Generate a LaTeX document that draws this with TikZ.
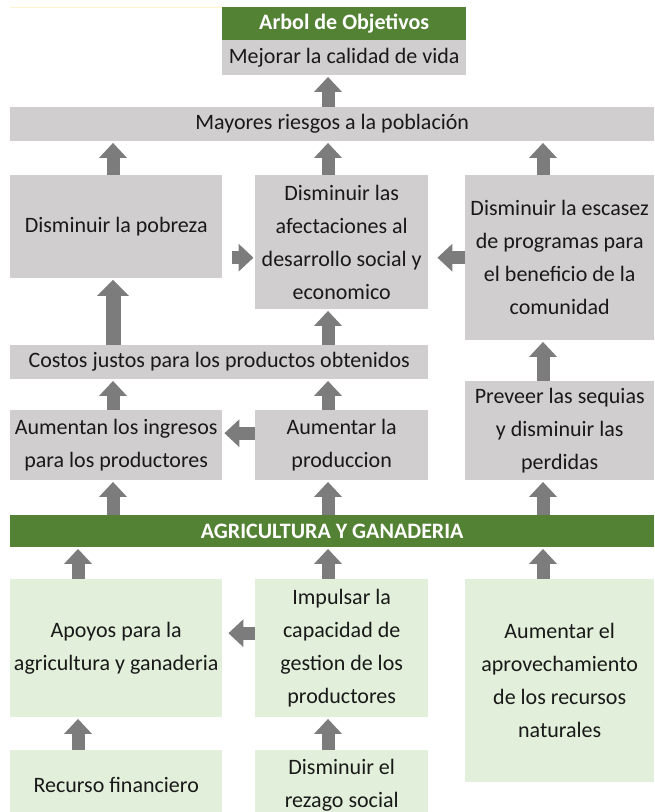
\documentclass[tikz,border=0pt]{standalone}
\usepackage{fontspec}
\setmainfont{Carlito}
\usetikzlibrary{arrows.meta}
\definecolor{grisbox}{HTML}{D0CECE}
\definecolor{verdebox}{HTML}{E2EFDA}
\definecolor{verdeosc}{HTML}{548235}
\definecolor{grisflecha}{HTML}{7C7C7C}
\definecolor{amarillo}{HTML}{FFF2CC}

\begin{document}
\begin{tikzpicture}[x=1pt, y=-1pt,
  caja/.style={fill=grisbox, draw=none, anchor=north west, inner sep=0pt,
    align=center, text=black!90, font=\fontsize{22}{33}\selectfont},
  cajaverde/.style={caja, fill=verdebox},
  titulo/.style={caja, fill=verdeosc, text=white, font=\fontsize{22}{33}\selectfont\bfseries},
  flecha/.style={draw=grisflecha, line width=13pt,
    -{Triangle[width=27pt, length=15pt]}, shorten >=1.5pt}]
  \useasboundingbox (0,0) rectangle (654,812);
  \clip (0,0) rectangle (654,812);
  % columnas de las flechas
  \coordinate (cizq) at (113,0);
  \coordinate (cmed) at (328,0);
  \coordinate (cder) at (543,0);
  \coordinate (cbaja) at (78,0);
  \draw[amarillo, line width=1pt] (10,7) -- (222,7);
  % nivel superior
  \node[titulo, minimum width=244pt, minimum height=33pt] (arbol) at (222,7) {Arbol de Objetivos};
  \node[caja, minimum width=244pt, minimum height=35pt] (mejorar) at (222,40) {Mejorar la calidad de vida};
  \node[caja, minimum width=644pt, minimum height=34pt] (mayores) at (10,107) {Mayores riesgos a la población};
  % fines
  \node[caja, minimum width=212pt, minimum height=103pt] (pobreza) at (10,175) {Disminuir la pobreza};
  \node[caja, minimum width=173pt, minimum height=134pt] (afect) at (255,175)
    {Disminuir las\\afectaciones al\\desarrollo social y\\economico};
  \node[caja, minimum width=189pt, minimum height=165pt] (escasez) at (465,175)
    {Disminuir la escasez\\de programas para\\el beneficio de la\\comunidad};
  \node[caja, minimum width=418pt, minimum height=34pt] (costos) at (10,345) {Costos justos para los productos obtenidos};
  \node[caja, minimum width=212pt, minimum height=70pt] (ingresos) at (10,410) {Aumentan los ingresos\\para los productores};
  \node[caja, minimum width=173pt, minimum height=70pt] (produccion) at (255,410) {Aumentar la\\produccion};
  \node[caja, minimum width=189pt, minimum height=99pt] (preveer) at (465,381) {Preveer las sequias\\y disminuir las\\perdidas};
  % problema central
  \node[titulo, minimum width=644pt, minimum height=32pt] (agri) at (10,515) {AGRICULTURA Y GANADERIA};
  % medios
  \node[cajaverde, minimum width=212pt, minimum height=138pt] (apoyos) at (10,579) {Apoyos para la\\agricultura y ganaderia};
  \node[cajaverde, minimum width=173pt, minimum height=138pt] (impulsar) at (255,579)
    {Impulsar la\\capacidad de\\gestion de los\\productores};
  \node[cajaverde, minimum width=189pt, minimum height=203pt] (aprovecha) at (465,579)
    {Aumentar el\\aprovechamiento\\de los recursos\\naturales};
  \node[cajaverde, minimum width=212pt, minimum height=70pt] (recurso) at (10,750) {Recurso financiero};
  \node[cajaverde, minimum width=173pt, minimum height=70pt] (rezago) at (255,750) {Disminuir el\\rezago social};
  % flechas verticales
  \draw[flecha] (mayores.north -| cmed) -- (mejorar.south -| cmed);
  \draw[flecha] (pobreza.north -| cizq) -- (mayores.south -| cizq);
  \draw[flecha] (afect.north -| cmed) -- (mayores.south -| cmed);
  \draw[flecha] (escasez.north -| cder) -- (mayores.south -| cder);
  \draw[flecha, line width=15pt, -{Triangle[width=31pt, length=16pt]}] (costos.north -| cizq) -- (pobreza.south -| cizq);
  \draw[flecha] (costos.north -| cmed) -- (afect.south -| cmed);
  \draw[flecha] (preveer.north -| cder) -- (escasez.south -| cder);
  \draw[flecha] (ingresos.north -| cizq) -- (costos.south -| cizq);
  \draw[flecha] (produccion.north -| cmed) -- (costos.south -| cmed);
  \draw[flecha] (agri.north -| cizq) -- (ingresos.south -| cizq);
  \draw[flecha] (agri.north -| cmed) -- (produccion.south -| cmed);
  \draw[flecha] (agri.north -| cder) -- (preveer.south -| cder);
  \draw[flecha] (apoyos.north -| cbaja) -- (agri.south -| cbaja);
  \draw[flecha] (impulsar.north -| cmed) -- (agri.south -| cmed);
  \draw[flecha] (aprovecha.north -| cder) -- (agri.south -| cder);
  \draw[flecha] (recurso.north -| cbaja) -- (apoyos.south -| cbaja);
  \draw[flecha] (rezago.north -| cmed) -- (impulsar.south -| cmed);
  % flechas horizontales
  \draw[flecha, shorten <=10pt] (pobreza.east |- escasez.west) -- (afect.west |- escasez.west);
  \draw[flecha, shorten >=9pt] (escasez.west) -- (afect.east |- escasez.west);
  \draw[flecha, shorten >=2pt] ([yshift=12pt]produccion.west) -- ([yshift=12pt]ingresos.east);
  \draw[flecha, shorten >=6pt] ([yshift=15pt]impulsar.west) -- ([yshift=15pt]apoyos.east);
\end{tikzpicture}
\end{document}
